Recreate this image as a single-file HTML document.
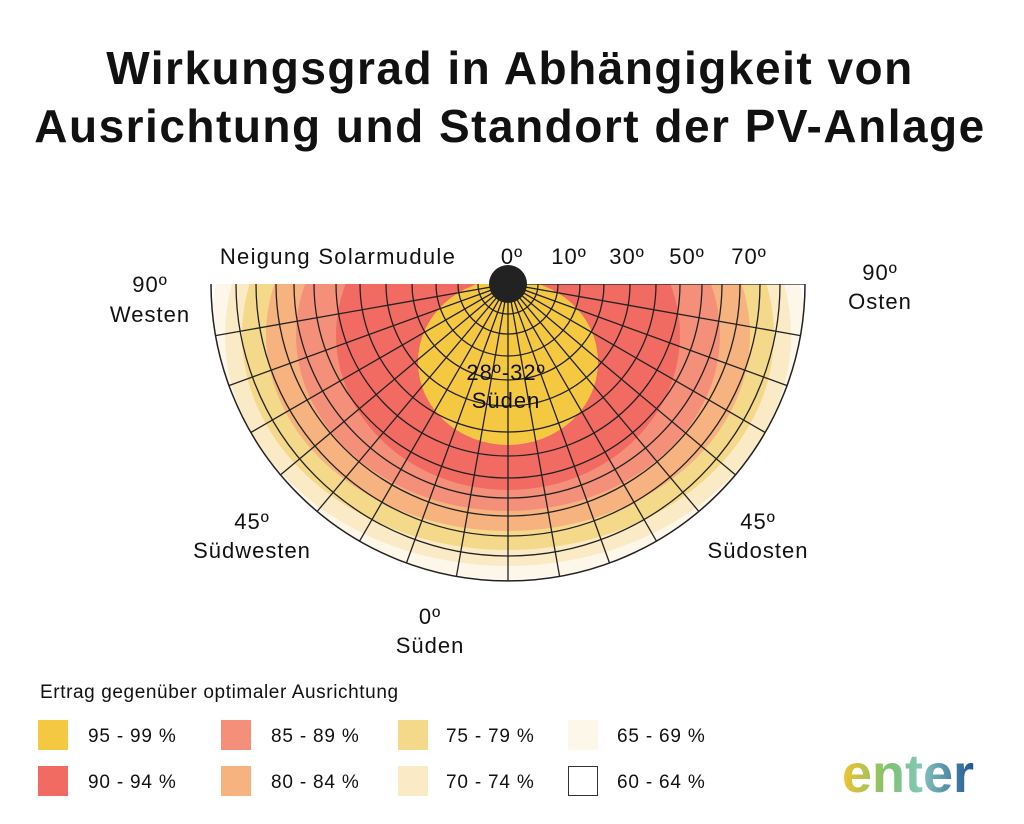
<!DOCTYPE html>
<html><head><meta charset="utf-8"><style>
body{margin:0;background:#fff;font-family:"Liberation Sans",sans-serif;}
</style></head><body>
<svg width="1024" height="819" xmlns="http://www.w3.org/2000/svg" font-family="Liberation Sans, sans-serif">
<text x="510" y="84" text-anchor="middle" font-size="46" font-weight="bold" fill="#111" letter-spacing="1.5">Wirkungsgrad in Abhängigkeit von</text>
<text x="510" y="142" text-anchor="middle" font-size="46" font-weight="bold" fill="#111" letter-spacing="1.5">Ausrichtung und Standort der PV-Anlage</text>
<defs><clipPath id="c"><path d="M211 284 A297 297 0 0 0 805 284 Z"/></clipPath></defs>
<g clip-path="url(#c)">
<rect x="200" y="270" width="620" height="320" fill="#fff"/>
<ellipse cx="508" cy="335" rx="298" ry="244" fill="#fdf7ea"/>
<ellipse cx="508" cy="335" rx="283" ry="231" fill="#fbeac6"/>
<ellipse cx="508" cy="335" rx="266" ry="215" fill="#f5d98a"/>
<ellipse cx="508" cy="335" rx="242" ry="196" fill="#f6b27f"/>
<ellipse cx="508" cy="335" rx="212" ry="176" fill="#f4907a"/>
<ellipse cx="508" cy="335" rx="172" ry="155" fill="#f26b63"/>
<ellipse cx="508" cy="362" rx="90" ry="83" fill="#f5c842"/>
<g stroke="#222" stroke-width="1.3" fill="none">
<circle cx="508" cy="284" r="30"/><circle cx="508" cy="284" r="50"/><circle cx="508" cy="284" r="72"/><circle cx="508" cy="284" r="96"/><circle cx="508" cy="284" r="122"/><circle cx="508" cy="284" r="148"/><circle cx="508" cy="284" r="172"/><circle cx="508" cy="284" r="194"/><circle cx="508" cy="284" r="214"/><circle cx="508" cy="284" r="232"/><circle cx="508" cy="284" r="252"/><circle cx="508" cy="284" r="272"/>
<line x1="508" y1="284" x2="805" y2="284"/>
<line x1="508" y1="284" x2="800.5" y2="335.6"/>
<line x1="508" y1="284" x2="787.1" y2="385.6"/>
<line x1="508" y1="284" x2="765.2" y2="432.5"/>
<line x1="508" y1="284" x2="735.5" y2="474.9"/>
<line x1="508" y1="284" x2="698.9" y2="511.5"/>
<line x1="508" y1="284" x2="656.5" y2="541.2"/>
<line x1="508" y1="284" x2="609.6" y2="563.1"/>
<line x1="508" y1="284" x2="559.6" y2="576.5"/>
<line x1="508" y1="284" x2="508" y2="581"/>
<line x1="508" y1="284" x2="456.4" y2="576.5"/>
<line x1="508" y1="284" x2="406.4" y2="563.1"/>
<line x1="508" y1="284" x2="359.5" y2="541.2"/>
<line x1="508" y1="284" x2="317.1" y2="511.5"/>
<line x1="508" y1="284" x2="280.5" y2="474.9"/>
<line x1="508" y1="284" x2="250.8" y2="432.5"/>
<line x1="508" y1="284" x2="228.9" y2="385.6"/>
<line x1="508" y1="284" x2="215.5" y2="335.6"/>
</g>
</g>
<path d="M211 284 A297 297 0 0 0 805 284" fill="none" stroke="#222" stroke-width="1.5"/>
<circle cx="508" cy="284" r="19" fill="#222"/>
<g font-size="22" fill="#111" text-anchor="middle" letter-spacing="1">
<text x="338" y="264" letter-spacing="1.3">Neigung Solarmudule</text>
<text x="512" y="264">0º</text><text x="569" y="264">10º</text><text x="627" y="264">30º</text><text x="687" y="264">50º</text><text x="749" y="264">70º</text>
<text x="150" y="292">90º</text><text x="150" y="322">Westen</text>
<text x="880" y="280">90º</text><text x="880" y="309">Osten</text>
<text x="506" y="380">28º-32º</text><text x="506" y="408">Süden</text>
<text x="252" y="529">45º</text><text x="252" y="558">Südwesten</text>
<text x="758" y="529">45º</text><text x="758" y="558">Südosten</text>
<text x="430" y="624">0º</text><text x="430" y="653">Süden</text>
</g>
<text x="40" y="698" font-size="19" fill="#111" letter-spacing="0.6">Ertrag gegenüber optimaler Ausrichtung</text>
<g stroke="none">
<rect x="38" y="720" width="30" height="30" fill="#f5c842"/>
<rect x="38" y="766" width="30" height="30" fill="#f26b63"/>
<rect x="221" y="720" width="30" height="30" fill="#f4907a"/>
<rect x="221" y="766" width="30" height="30" fill="#f6b27f"/>
<rect x="398" y="720" width="30" height="30" fill="#f5d98a"/>
<rect x="398" y="766" width="30" height="30" fill="#fbeac6"/>
<rect x="568" y="720" width="30" height="30" fill="#fdf7ea"/>
<rect x="568.5" y="766.5" width="29" height="29" fill="#fff" stroke="#333"/>
</g>
<g font-size="19" fill="#111" letter-spacing="0.8">
<text x="88" y="742">95 - 99 %</text><text x="88" y="788">90 - 94 %</text>
<text x="271" y="742">85 - 89 %</text><text x="271" y="788">80 - 84 %</text>
<text x="446" y="742">75 - 79 %</text><text x="446" y="788">70 - 74 %</text>
<text x="617" y="742">65 - 69 %</text><text x="617" y="788">60 - 64 %</text>
</g>
<defs><linearGradient id="g" x1="0" x2="1"><stop offset="0" stop-color="#f2c230"/><stop offset="0.35" stop-color="#7cc36e"/><stop offset="0.6" stop-color="#86c6bc"/><stop offset="1" stop-color="#1f5595"/></linearGradient></defs>
<text x="842" y="792" font-size="54" font-weight="bold" fill="url(#g)">enter</text>
</svg>
</body></html>
